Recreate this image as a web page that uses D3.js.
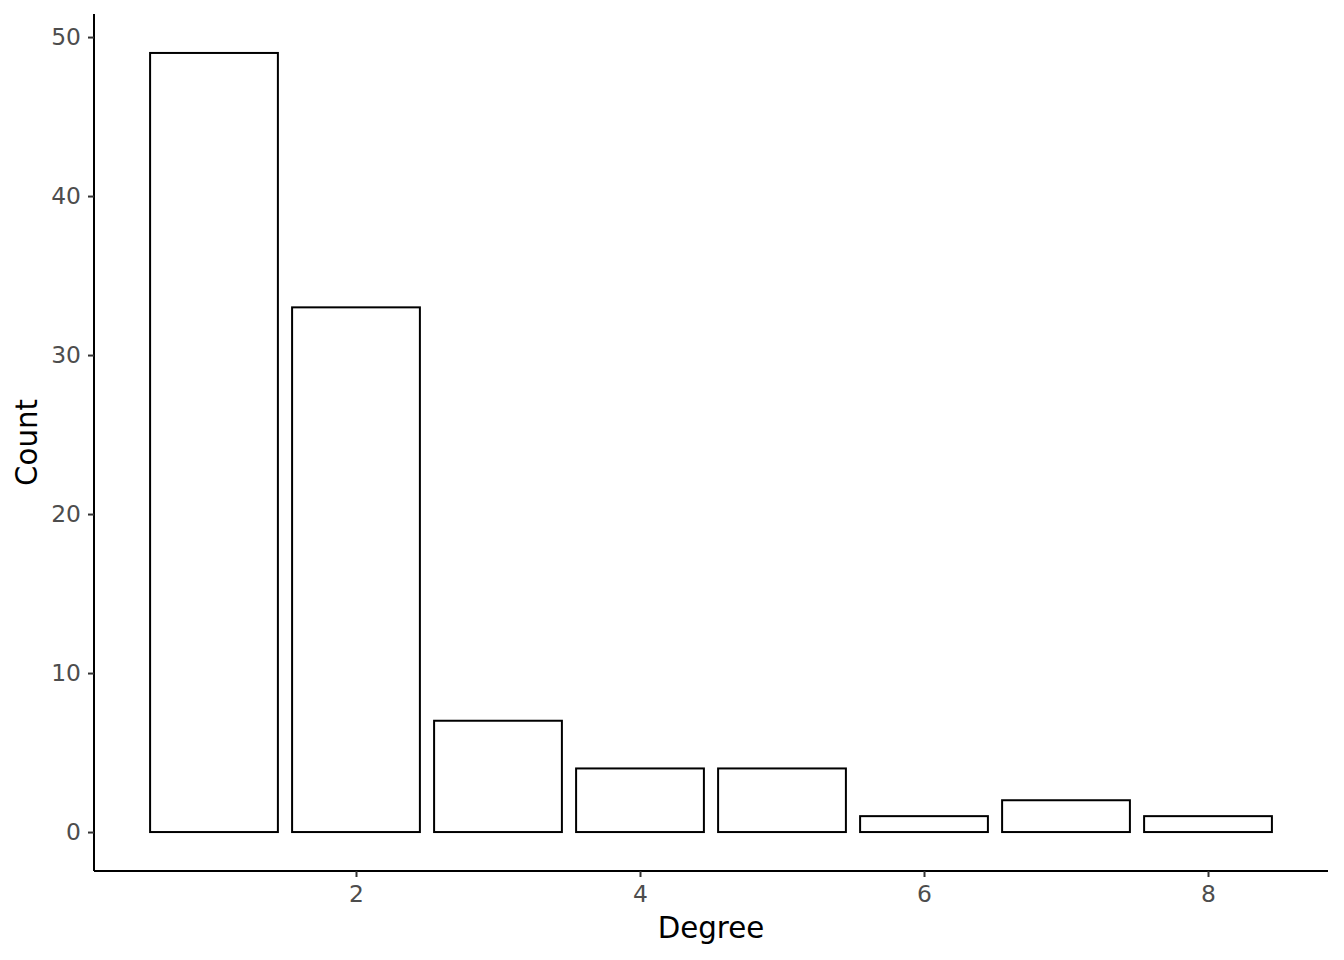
<!DOCTYPE html>
<html><head><meta charset="utf-8">
<script src="https://cdn.jsdelivr.net/npm/d3@7"></script>
<style>body{margin:0;background:#fff}svg{display:block}</style>
</head><body><svg id="c" width="1344" height="960"></svg>
<script>
const degrees = [1, 2, 3, 4, 5, 6, 7, 8];
const counts = [49, 33, 7, 4, 4, 1, 2, 1];
const xTicks = [2, 4, 6, 8];
const yTicks = [0, 10, 20, 30, 40, 50];

(function () {
const svg = d3.select("#c");
const mL = 94, mR = 1328, mT = 14, mB = 871;
const x = d3.scaleLinear().domain([0.155, 8.845]).range([mL, mR]);
const y = d3.scaleLinear().domain([-2.45, 51.45]).range([mB, mT]);
const font = "DejaVu Sans, sans-serif";

svg.selectAll("rect.bar").data(degrees).join("rect")
  .attr("class","bar")
  .attr("x", d => x(d - 0.45))
  .attr("width", d => x(d + 0.45) - x(d - 0.45))
  .attr("y", (d,i) => y(counts[i]))
  .attr("height", (d,i) => y(0) - y(counts[i]))
  .attr("fill", "#fff").attr("stroke", "#000").attr("stroke-width", 2);

const xa = svg.append("g").attr("transform", `translate(0,${mB})`)
  .call(d3.axisBottom(x).tickValues(xTicks).tickSize(6).tickPadding(8).tickSizeOuter(0));
const ya = svg.append("g").attr("transform", `translate(${mL},0)`)
  .call(d3.axisLeft(y).tickValues(yTicks).tickSize(6).tickPadding(7).tickSizeOuter(0));
[xa, ya].forEach(a => {
  a.select(".domain").attr("stroke", "#000").attr("stroke-width", 2);
  a.selectAll(".tick line").attr("stroke", "#333").attr("stroke-width", 2);
  a.selectAll(".tick text").attr("fill", "#4d4d4d").style("font-family", font).style("font-size", "23.4px");
});
xa.select(".domain").attr("d", `M${mL},0H${mR}`);
ya.select(".domain").attr("d", `M0,${mB}V${mT}`);

svg.append("text").attr("x", (mL + mR) / 2).attr("y", 938)
  .attr("text-anchor", "middle").style("font-family", font).style("font-size", "29.3px").text("Degree");
svg.append("text").attr("transform", `translate(37,${(mT + mB) / 2}) rotate(-90)`)
  .attr("text-anchor", "middle").style("font-family", font).style("font-size", "29.3px").text("Count");
})();
</script></body></html>
